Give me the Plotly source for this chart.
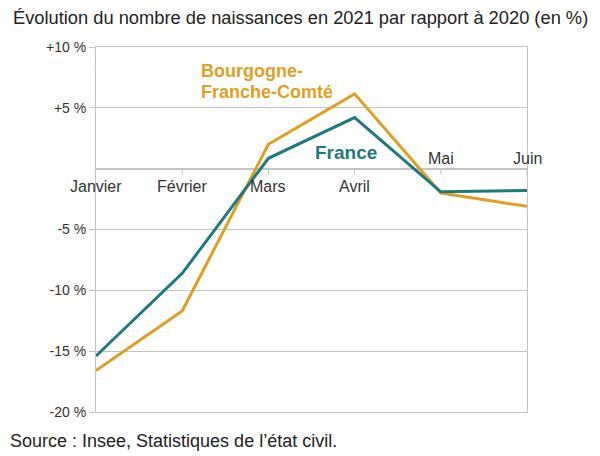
import plotly.graph_objects as go

months = ["Janvier", "Février", "Mars", "Avril", "Mai", "Juin"]
france = [-15.4, -8.6, 0.85, 4.2, -1.9, -1.8]
bfc = [-16.6, -11.7, 2.0, 6.15, -2.0, -3.1]
ytick_vals = [10, 5, -5, -10, -15, -20]
ytick_text = ["+10 %", "+5 %", "-5 %", "-10 %", "-15 %", "-20 %"]

ORANGE = "#E29E22"
TEAL = "#1F7A7F"
GRID = "#C4C4C4"
TXT = "#333333"
FONT = "Liberation Sans, Arial"

# page body has an 8px margin, figure is sized to fit the 600x456 window
W, H = 592, 448
ML, MR, MT, MB = 88, 73, 39, 44
PW, PH = W - ML - MR, H - MT - MB

x = list(range(len(months)))

fig = go.Figure()
fig.add_trace(go.Scatter(x=x, y=bfc, mode="lines", line=dict(color=ORANGE, width=3),
                         name="Bourgogne-Franche-Comté", hoverinfo="skip"))
fig.add_trace(go.Scatter(x=x, y=france, mode="lines", line=dict(color=TEAL, width=3),
                         name="France", hoverinfo="skip"))

# month labels near the zero axis
for i, m in enumerate(months):
    above = i >= 4
    fig.add_annotation(x=i, y=0, text=m, showarrow=False, xref="x", yref="y",
                       yanchor="bottom" if above else "top",
                       yshift=0 if above else -7,
                       font=dict(family=FONT, size=16, color=TXT))
    if i > 0:
        fig.add_shape(type="line", x0=i, x1=i, y0=0, y1=-0.5, xref="x", yref="y",
                      line=dict(color=GRID, width=1))

fig.add_annotation(x=1.20, y=8.03, xref="x", yref="y", text="<b>Bourgogne-</b>",
                   showarrow=False, xanchor="left", yanchor="middle",
                   font=dict(family=FONT, size=18, color=ORANGE))
fig.add_annotation(x=1.20, y=6.3, xref="x", yref="y", text="<b>Franche-Comté</b>",
                   showarrow=False, xanchor="left", yanchor="middle",
                   font=dict(family=FONT, size=18, color=ORANGE))
fig.add_annotation(x=2.52, y=1.37, xref="x", yref="y", text="<b>France</b>",
                   showarrow=False, xanchor="left", yanchor="middle",
                   font=dict(family=FONT, size=19, color=TEAL))

fig.add_annotation(x=(0 - ML) / PW, y=(PH + MT - 433) / PH, xref="paper", yref="paper",
                   xanchor="left", yanchor="middle",
                   text="Source : Insee, Statistiques de l’état civil.", showarrow=False,
                   font=dict(family=FONT, size=18, color="#222222"))

fig.update_layout(
    width=W, height=H,
    margin=dict(l=ML, r=MR, t=MT, b=MB),
    paper_bgcolor="white", plot_bgcolor="white",
    showlegend=False,
    title=dict(text="Évolution du nombre de naissances en 2021 par rapport à 2020 (en %)",
               x=5 / W, xanchor="left", y=1 - 9.5 / H, yanchor="middle",
               font=dict(family=FONT, size=18.3, color="#222222")),
    xaxis=dict(range=[0, 5], showticklabels=False, showgrid=False, zeroline=False,
               showline=True, linecolor=GRID, linewidth=1, mirror=True, ticks=""),
    yaxis=dict(range=[-20, 10], tickvals=ytick_vals, ticktext=ytick_text,
               showgrid=True, gridcolor=GRID, gridwidth=1,
               zeroline=True, zerolinecolor=GRID, zerolinewidth=1.5,
               showline=True, linecolor=GRID, linewidth=1, mirror=True,
               ticks="outside", ticklen=6, tickcolor=GRID, automargin=False,
               tickfont=dict(family=FONT, size=14, color=TXT)),
)

fig.write_html("out.html")
